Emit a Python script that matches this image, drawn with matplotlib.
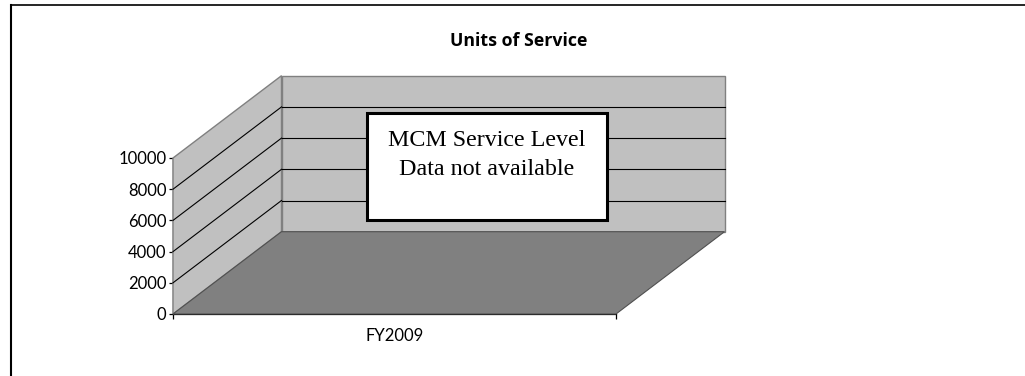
import matplotlib
matplotlib.use("Agg")
import matplotlib.pyplot as plt
from matplotlib.patches import Polygon, Rectangle
from matplotlib.lines import Line2D
from matplotlib.transforms import IdentityTransform

# ---- data ----
title = "Units of Service"
categories = ["FY2009"]
y_ticks = [0, 2000, 4000, 6000, 8000, 10000]
note_lines = ["MCM Service Level", "Data not available"]

W, H, DPI = 1025, 376, 100
fig = plt.figure(figsize=(W / DPI, H / DPI), dpi=DPI)
fig.patch.set_facecolor("white")

def px(x, y):
    """image pixel (top-left origin) -> figure fraction"""
    return x / W, 1 - y / H

# plot area (front face)
L, R, T, B = 173, 616, 158, 314
ax = fig.add_axes([L / W, 1 - B / H, (R - L) / W, (B - T) / H])
ax.set_xlim(-0.5, len(categories) - 0.5)
ax.set_ylim(y_ticks[0], y_ticks[-1])
ax.patch.set_visible(False)

DX, DY = 108.5, 82.3  # depth offset in pixels

def disp(x, y, d):
    X, Y = ax.transData.transform((x, y))
    return (X + d * DX, Y + d * DY)

x0, x1 = ax.get_xlim()
y0, y1 = ax.get_ylim()
wall_c, floor_c, edge_c = "#c0c0c0", "#808080", "#808080"

# back wall
back = Polygon([disp(x0, y0, 1), disp(x1, y0, 1), disp(x1, y1, 1), disp(x0, y1, 1)],
               closed=True, transform=IdentityTransform(), fc=wall_c, ec=edge_c,
               lw=1.0, zorder=0.5, clip_on=False)
fig.add_artist(back)
# left wall
side = Polygon([disp(x0, y0, 0), disp(x0, y1, 0), disp(x0, y1, 1), disp(x0, y0, 1)],
               closed=True, transform=IdentityTransform(), fc=wall_c, ec=edge_c,
               lw=1.0, zorder=0.5, clip_on=False)
fig.add_artist(side)
# gridlines
for v in y_ticks[1:-1]:
    for (a, b) in [((x0, v, 1), (x1, v, 1)), ((x0, v, 0), (x0, v, 1))]:
        p, q = disp(*a), disp(*b)
        fig.add_artist(Line2D([p[0], q[0]], [p[1], q[1]], transform=IdentityTransform(),
                              color="black", lw=0.8, zorder=0.6))
# floor
floor = Polygon([disp(x0, y0, 0), disp(x1, y0, 0), disp(x1, y0, 1), disp(x0, y0, 1)],
                closed=True, transform=IdentityTransform(), fc=floor_c, ec="#505050",
                lw=0.8, zorder=0.7, clip_on=False)
fig.add_artist(floor)

# axes styling
for s in ["top", "right"]:
    ax.spines[s].set_visible(False)
for s in ["left", "bottom"]:
    ax.spines[s].set_color("black")
    ax.spines[s].set_linewidth(0.9)
    ax.spines[s].set_zorder(3)

font = "Lato"
ax.set_yticks(y_ticks)
ax.set_yticklabels([str(v) for v in y_ticks], fontname=font, fontsize=12)
ax.tick_params(axis="y", direction="out", length=3.2, width=0.9, pad=1.5, colors="black")
ax.set_xticks(range(len(categories)))
ax.set_xticklabels(categories, fontname=font, fontsize=12)
ax.tick_params(axis="x", which="major", length=0, pad=10)
ax.set_xticks([x0, x1], minor=True)
ax.tick_params(axis="x", which="minor", direction="out", length=3.5, width=0.9)

# title
tx, ty = px(519, 41)
fig.text(tx, ty, title, fontname="Open Sans", fontweight="bold", fontsize=12.8,
         ha="center", va="center")

# note box
bx0, by0, bx1, by1 = 367, 113, 607, 220
fig.add_artist(Rectangle(px(bx0, by1), (bx1 - bx0) / W, (by1 - by0) / H,
                         transform=fig.transFigure, fc="white", ec="black", lw=2.2,
                         zorder=4))
cx = (bx0 + bx1) / 2
for line, base in zip(note_lines, [146, 175]):
    fx, fy = px(cx, base)
    fig.text(fx, fy, line, family="Liberation Serif", fontsize=17.3,
             ha="center", va="baseline", zorder=5)

# chart-area border (left and top edges visible)
fig.add_artist(Line2D([11 / W, 11 / W], [0, 1 - 5 / H], transform=fig.transFigure,
                      color="black", lw=1.5, zorder=6))
fig.add_artist(Line2D([11 / W, 1], [1 - 5 / H, 1 - 5 / H], transform=fig.transFigure,
                      color="black", lw=1.2, zorder=6))

fig.savefig("out.png", dpi=DPI)
